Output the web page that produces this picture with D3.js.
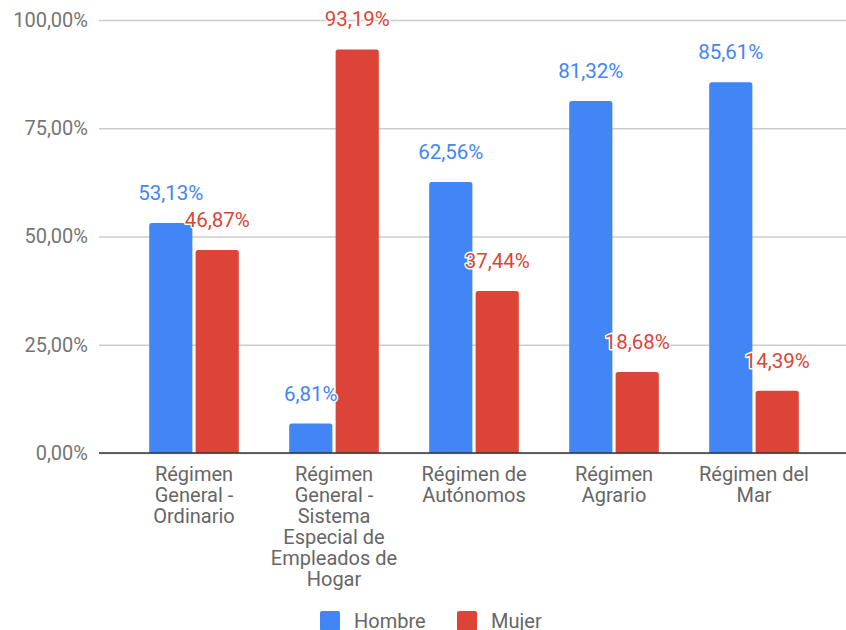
<!DOCTYPE html>
<html><head><meta charset="utf-8">
<script src="https://cdn.jsdelivr.net/npm/d3@7"></script>
<style>body{margin:0;background:#fff}svg{display:block;font-family:Roboto,"Noto Sans",sans-serif}</style>
</head><body><svg id="c" width="846" height="630"></svg>
<script>
const categories = [
  ["Régimen","General -","Ordinario"],
  ["Régimen","General -","Sistema","Especial de","Empleados de","Hogar"],
  ["Régimen de","Autónomos"],
  ["Régimen","Agrario"],
  ["Régimen del","Mar"]
];
const seriesNames = ["Hombre","Mujer"];
const hombre = [53.13, 6.81, 62.56, 81.32, 85.61];
const mujer = [46.87, 93.19, 37.44, 18.68, 14.39];
const yTicks = [0, 25, 50, 75, 100];
const colors = ["#4285F4", "#DB4437"];

const svg = d3.select("#c");
const fmt = v => d3.format(".2f")(v).replace(".", ",") + "%";
const y = d3.scaleLinear().domain([0, 100]).range([453, 20]);
const x0 = d3.scaleBand().domain(d3.range(categories.length)).range([124, 824]).paddingInner(0.36).paddingOuter(0.18);
const x1 = d3.scaleBand().domain([0,1]).range([0, x0.bandwidth()]).paddingInner(0.07);

// gridlines + y labels
const ya = svg.append("g").attr("transform","translate(99,0)")
  .call(d3.axisLeft(y).tickValues(yTicks).tickSize(-747).tickFormat(v => fmt(v)).tickPadding(11));
ya.select(".domain").remove();
ya.selectAll(".tick line").attr("stroke","#cccccc").attr("stroke-width",1.5);
ya.selectAll(".tick text").attr("fill","#757575").attr("font-size","20px").attr("font-family","Roboto");

const series = [hombre, mujer];
function topRounded(x, yTop, w, h, r){
  r = Math.min(r, h, w/2);
  return `M${x},${yTop+h}V${yTop+r}Q${x},${yTop} ${x+r},${yTop}H${x+w-r}Q${x+w},${yTop} ${x+w},${yTop+r}V${yTop+h}Z`;
}
series.forEach((vals, s) => {
  svg.append("g").selectAll("path").data(vals).join("path")
    .attr("fill", colors[s])
    .attr("d", (v,i) => topRounded(x0(i)+x1(s), y(v), x1.bandwidth(), y(0)-y(v), 2.5));
});
// baseline
svg.append("line").attr("x1",99).attr("x2",846).attr("y1",y(0)).attr("y2",y(0)).attr("stroke","#333").attr("stroke-width",1.5);

// data labels
series.forEach((vals, s) => {
  svg.append("g").selectAll("text").data(vals).join("text")
    .attr("x",(v,i)=> x0(i)+x1(s)+x1.bandwidth()/2)
    .attr("y", v => y(v)-23)
    .attr("text-anchor","middle")
    .attr("font-size","20.5px")
    .attr("fill", colors[s])
    .attr("stroke","#fff").attr("stroke-width",3).attr("paint-order","stroke").attr("stroke-linejoin","round")
    .text(v => fmt(v));
});

// category labels
const xg = svg.append("g");
categories.forEach((lines, i) => {
  const t = xg.append("text").attr("text-anchor","middle").attr("fill","#666").attr("font-size","20px")
    .attr("x", x0(i)+x0.bandwidth()/2).attr("y", 481);
  lines.forEach((l, k) => t.append("tspan").attr("x", x0(i)+x0.bandwidth()/2).attr("dy", k===0?0:21).text(l));
});

// legend
const legendX = [320, 457];
seriesNames.forEach((n, s) => {
  svg.append("rect").attr("x",legendX[s]).attr("y",611).attr("width",20).attr("height",20).attr("rx",2).attr("fill",colors[s]);
  svg.append("text").attr("x",legendX[s]+34).attr("y",628).attr("font-size","20px").attr("fill","#666").text(n);
});
</script></body></html>
